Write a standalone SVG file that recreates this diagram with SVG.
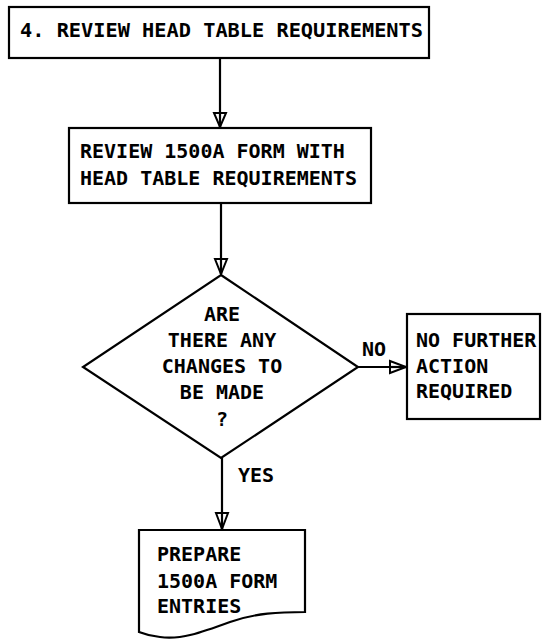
<svg xmlns="http://www.w3.org/2000/svg" width="542" height="641" viewBox="0 0 542 641">
  <style>
    .shape { fill: #fff; stroke: #000; stroke-width: 2.2; }
    .line { fill: none; stroke: #000; stroke-width: 2.2; }
    .head { fill: #fff; stroke: #000; stroke-width: 2; stroke-linejoin: miter; }
    text { font-family: "DejaVu Sans Mono", "Liberation Mono", monospace; font-size: 20px; font-weight: bold; fill: #000; }
    .mid { text-anchor: middle; }
  </style>
  <rect width="542" height="641" fill="#fff"/>

  <g id="connectors">
    <line class="line" x1="220" y1="58" x2="220" y2="127"/>
    <polygon class="head" points="214,113 226,113 220,127"/>
    <line class="line" x1="220" y1="113" x2="220" y2="127"/>

    <line class="line" x1="221" y1="203" x2="221" y2="274"/>
    <polygon class="head" points="215,259 227,259 221,274"/>
    <line class="line" x1="221" y1="259" x2="221" y2="274"/>

    <line class="line" x1="358" y1="367" x2="406" y2="367"/>
    <polygon class="head" points="390,361 390,373 406,367"/>
    <line class="line" x1="390" y1="367" x2="406" y2="367"/>
    <text x="362" y="356">NO</text>

    <line class="line" x1="222" y1="458" x2="222" y2="529"/>
    <polygon class="head" points="216,513 228,513 222,529"/>
    <line class="line" x1="222" y1="513" x2="222" y2="529"/>
    <text x="238" y="482">YES</text>
  </g>

  <g id="step4">
    <rect class="shape" x="9" y="7" width="420" height="51"/>
    <text x="20" y="37" textLength="403" lengthAdjust="spacingAndGlyphs">4. REVIEW HEAD TABLE REQUIREMENTS</text>
  </g>

  <g id="review-form">
    <rect class="shape" x="69" y="128" width="302" height="75"/>
    <text x="80" y="158">REVIEW 1500A FORM WITH</text>
    <text x="80" y="185">HEAD TABLE REQUIREMENTS</text>
  </g>

  <g id="changes-decision">
    <polygon class="shape" points="221,275 358,367 221,458 83,367"/>
    <text class="mid" x="222" y="321">ARE</text>
    <text class="mid" x="222" y="347">THERE ANY</text>
    <text class="mid" x="222" y="373">CHANGES TO</text>
    <text class="mid" x="222" y="399">BE MADE</text>
    <text class="mid" x="222" y="426">?</text>
  </g>

  <g id="no-action">
    <rect class="shape" x="407" y="314" width="133" height="105"/>
    <text x="416" y="347">NO FURTHER</text>
    <text x="416" y="373">ACTION</text>
    <text x="416" y="398">REQUIRED</text>
  </g>

  <g id="prepare-entries">
    <path class="shape" d="M139,530 H305 V612 C280,612 255,613 230,622 C200,633 180,640 160,637 C150,636 144,634 139,632 Z"/>
    <text x="157" y="561">PREPARE</text>
    <text x="157" y="588">1500A FORM</text>
    <text x="157" y="613">ENTRIES</text>
  </g>
</svg>
